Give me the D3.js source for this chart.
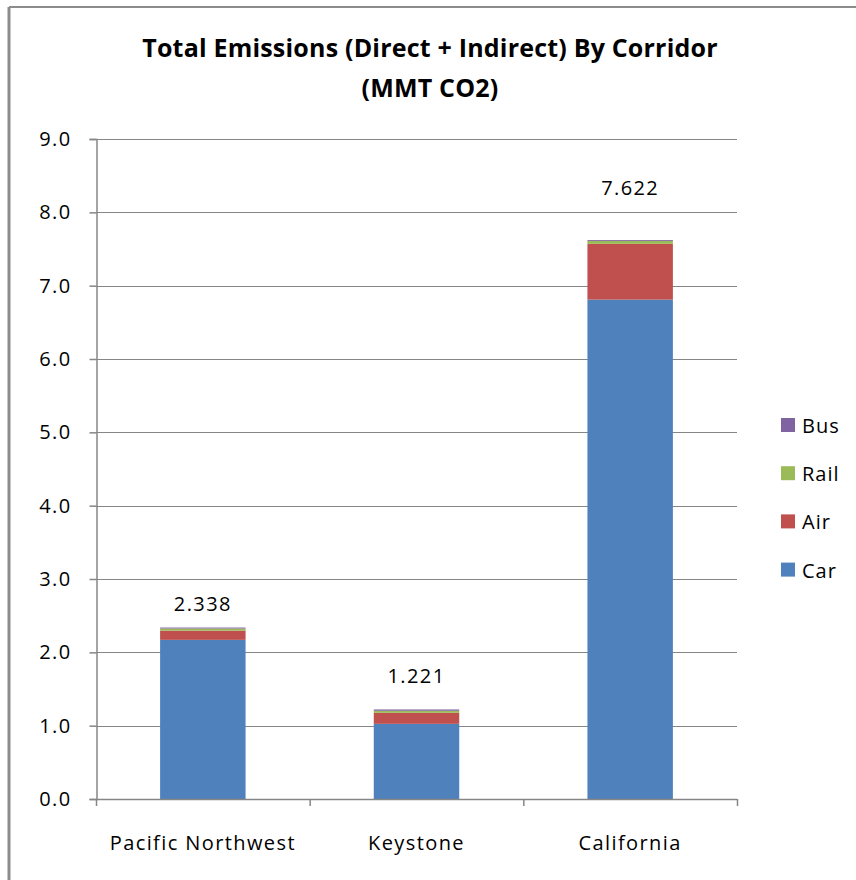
<!DOCTYPE html>
<html>
<head>
<meta charset="utf-8">
<script src="https://cdn.jsdelivr.net/npm/d3@7/dist/d3.min.js"></script>
<style>
  html, body { margin: 0; padding: 0; background: #fff; }
  svg { display: block; }
  text { font-family: "Open Sans", "Noto Sans", "Liberation Sans", sans-serif; }
</style>
</head>
<body>
<svg id="chart" width="856" height="880"></svg>
<script>
// Corridors and emissions by mode (MMT CO2)
const corridors = ["Pacific Northwest", "Keystone", "California"];
const modes = ["Car", "Air", "Rail", "Bus"];
const car  = [2.170, 1.025, 6.810];
const air  = [0.125, 0.150, 0.760];
const rail = [0.030, 0.028, 0.040];
const bus  = [0.013, 0.018, 0.012];
const totals = [2.338, 1.221, 7.622];
const yTicks = [0, 1, 2, 3, 4, 5, 6, 7, 8, 9];
const modeColors = ["#4f81bd", "#c0504d", "#9bbb59", "#8064a2"];

// Layout: gap (px) between each bar's top and its total label baseline
const totalLabelGap = [17, 26, 45];
const textStyle = { size: 20, spacing: 1.4 };

const svg = d3.select("#chart");

// Chart area frame (top and left edges)
svg.append("line").attr("x1", 9).attr("x2", 856).attr("y1", 7).attr("y2", 7)
  .attr("stroke", "#8c8c8c").attr("stroke-width", 2);
svg.append("line").attr("x1", 9).attr("x2", 9).attr("y1", 7).attr("y2", 880)
  .attr("stroke", "#8c8c8c").attr("stroke-width", 3);

// Title
const title = svg.append("text").attr("text-anchor", "middle")
  .attr("font-size", 25).attr("font-weight", "bold").attr("fill", "#000")
  .attr("letter-spacing", 0.2);
title.append("tspan").attr("x", 430).attr("y", 57).text("Total Emissions (Direct + Indirect) By Corridor");
title.append("tspan").attr("x", 430).attr("y", 97).text("(MMT CO2)");

const plot = { left: 96, right: 737, top: 139, bottom: 799 };

const x = d3.scaleBand().domain(corridors)
  .range([plot.left, plot.right]).paddingInner(0.6).paddingOuter(0.3);
const xOuter = d3.scaleBand().domain(corridors).range([plot.left, plot.right]);
const y = d3.scaleLinear().domain([0, 9]).range([plot.bottom, plot.top]);

// Gridlines
svg.append("g").selectAll("line").data(yTicks.slice(1)).join("line")
  .attr("x1", plot.left).attr("x2", plot.right)
  .attr("y1", d => Math.round(y(d)) + 0.5).attr("y2", d => Math.round(y(d)) + 0.5)
  .attr("stroke", "#868686").attr("stroke-width", 1);

// Stacked bars
const rows = corridors.map((c, i) => ({ corridor: c, Car: car[i], Air: air[i], Rail: rail[i], Bus: bus[i] }));
const stack = d3.stack().keys(modes)(rows);
svg.append("g").selectAll("g").data(stack).join("g")
  .attr("fill", (d, i) => modeColors[i])
  .selectAll("rect").data(d => d).join("rect")
  .attr("x", d => x(d.data.corridor))
  .attr("width", x.bandwidth())
  .attr("y", d => y(d[1]))
  .attr("height", d => y(d[0]) - y(d[1]));

// Y axis
const yAxis = d3.axisLeft(y).tickValues(yTicks).tickFormat(d3.format(".1f"))
  .tickSize(7).tickPadding(18);
const gy = svg.append("g").attr("transform", `translate(${plot.left + 0.5},0)`).call(yAxis);
gy.select(".domain").attr("stroke", "#868686").attr("stroke-width", 1.5);
gy.selectAll(".tick line").attr("stroke", "#868686").attr("stroke-width", 1.5);
gy.selectAll(".tick text").attr("font-size", textStyle.size).attr("fill", "#000")
  .attr("letter-spacing", textStyle.spacing)
  .attr("font-family", "\"Open Sans\", sans-serif");

// X axis with tick marks at category boundaries
svg.append("line").attr("x1", plot.left).attr("x2", plot.right)
  .attr("y1", plot.bottom + 0.5).attr("y2", plot.bottom + 0.5)
  .attr("stroke", "#868686").attr("stroke-width", 1.5);
const boundaries = corridors.map(c => xOuter(c)).concat([plot.right]);
svg.append("g").selectAll("line").data(boundaries).join("line")
  .attr("x1", d => d + 0.5).attr("x2", d => d + 0.5)
  .attr("y1", plot.bottom).attr("y2", plot.bottom + 7)
  .attr("stroke", "#868686").attr("stroke-width", 1.5);
svg.append("g").selectAll("text").data(corridors).join("text")
  .attr("x", d => xOuter(d) + xOuter.bandwidth() / 2)
  .attr("y", 850)
  .attr("text-anchor", "middle").attr("font-size", textStyle.size).attr("fill", "#000")
  .attr("letter-spacing", textStyle.spacing)
  .text(d => d);

// Total labels above bars
svg.append("g").selectAll("text").data(corridors).join("text")
  .attr("x", d => x(d) + x.bandwidth() / 2)
  .attr("y", (d, i) => y(totals[i]) - totalLabelGap[i])
  .attr("text-anchor", "middle").attr("font-size", textStyle.size).attr("fill", "#000")
  .attr("letter-spacing", textStyle.spacing)
  .text((d, i) => d3.format(".3f")(totals[i]));

// Legend (top to bottom: Bus, Rail, Air, Car)
const legendItems = modes.map((m, i) => ({ mode: m, color: modeColors[i] })).reverse();
const legend = svg.append("g").selectAll("g").data(legendItems).join("g")
  .attr("transform", (d, i) => `translate(781,${425 + i * 48.2})`);
legend.append("rect").attr("x", 0).attr("y", -7).attr("width", 14).attr("height", 14)
  .attr("fill", d => d.color);
legend.append("text").attr("x", 21).attr("y", 8).attr("font-size", textStyle.size).attr("fill", "#000")
  .attr("letter-spacing", 1)
  .text(d => d.mode);
</script>
</body>
</html>
